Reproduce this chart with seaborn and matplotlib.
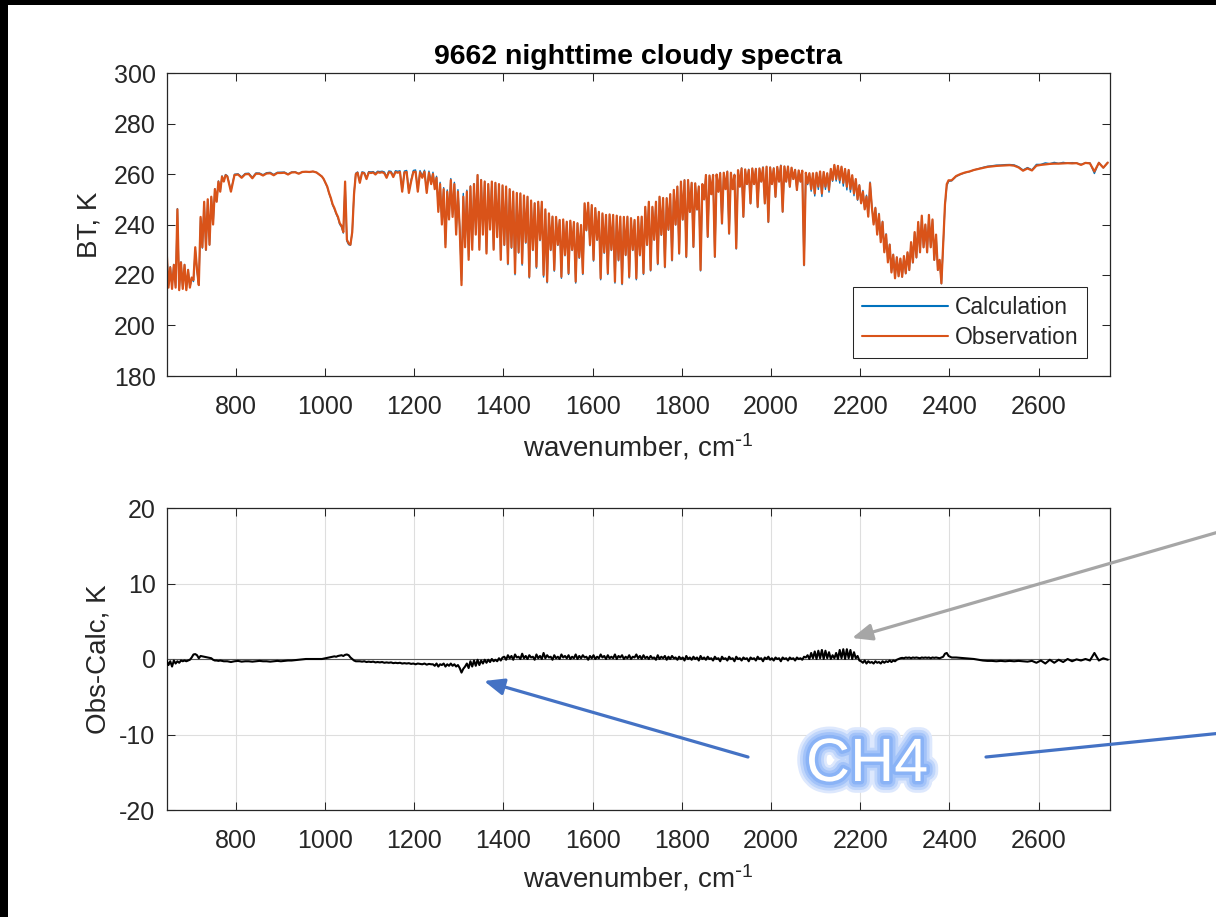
import numpy as np
import pandas as pd
import matplotlib
matplotlib.use("Agg")
import matplotlib.pyplot as plt
import seaborn as sns
from matplotlib import patheffects as pe
from matplotlib.patches import FancyArrowPatch, Rectangle, ArrowStyle
from matplotlib import font_manager

# ---------------- data ----------------
# spectral segments: start wavenumber, sampling step (cm-1)
seg_start = [645, 789, 989, 1078, 1242, 2226, 2405]
seg_step = [4, 8, 4, 5, 4, 4, 10]

# observed brightness temperature (K) per segment
obs_co2_lw = [229, 215, 223, 214.5, 224, 215, 246, 214, 225, 214.5,
              224, 214, 222, 215, 219, 218, 231, 222, 216, 243,
              231, 249, 230, 250, 232, 251, 240, 254, 249, 257,
              253, 259, 257, 259.5, 259]
obs_window1 = [253, 259.6, 259.8, 258.5, 259.9, 260, 258.3, 260.1, 260.1, 259.4,
               260.2, 260.3, 259.5, 260.4, 260.4, 260.5, 259.8, 260.6, 260.7, 260.1,
               260.8, 260.9, 260.8, 261, 260.6]
obs_o3 = [259.5, 259, 258, 256.5, 255, 252.5, 250.5, 248, 246.5, 244.5,
          243, 240.5, 239.5, 237, 257, 234, 232.5, 232, 237, 252,
          260, 260.5]
obs_window2 = [256.5, 260.5, 260.3, 258, 260.6, 260.4, 260.6, 259.8, 260.7, 260.5,
               260.7, 260.3, 258.5, 260.7, 260.6, 258.8, 260.8, 260.5, 260.8, 253,
               260.6, 260.8, 252.5, 257, 260.8, 260.9, 253, 260.7, 258.5, 260.9,
               252.5, 260.5, 256]
obs_h2o = [260, 254, 258.5, 245, 256, 240, 254, 231, 253, 242,
           257.6, 243, 256, 236, 253, 238, 216, 251, 231, 253,
           226, 255, 230, 256, 236, 259.6, 230, 257.6, 236, 257,
           228.5, 256, 238, 257, 230, 256.5, 235, 256, 226, 255.5,
           232, 255, 224.6, 254, 231, 253, 220.7, 252.5, 229, 252.3,
           224.6, 251.5, 233, 251, 219.3, 249.5, 230, 248.4, 223.3, 249,
           234, 249, 220, 246, 217.4, 244.4, 230, 243.1, 222, 243,
           232, 241.8, 219.3, 242, 228, 241.1, 220.7, 241.5, 230, 241,
           217.4, 240.5, 227, 239.8, 220.7, 248.4, 237.8, 248.6, 232, 247.7,
           226, 246.5, 234, 245, 218.7, 244.4, 229, 243.8, 220.7, 244,
           230, 243.8, 217.4, 243.5, 226, 243.1, 216.7, 243, 228, 243.1,
           219.3, 242.5, 230, 241.8, 218.7, 243, 228, 243.1, 220.7, 247,
           232, 249, 222, 247, 234, 249, 224.6, 251, 236, 250.5,
           223.3, 250.4, 238, 252, 226, 253.7, 240, 255, 228.6, 257,
           242, 257.5, 227.3, 257.6, 245, 256.5, 231.2, 256.3, 246, 255,
           222, 256, 250, 259.6, 235.2, 259.4, 252, 259.6, 227.3, 259.8,
           253, 260.3, 240.5, 260.5, 254, 260.9, 236.5, 260.5, 254, 259.6,
           230.6, 261.5, 255, 262.2, 243.1, 261.8, 256, 261.6, 248.4, 262.2,
           256, 262, 247, 262.2, 257, 262.5, 248.4, 262.9, 241.1, 262.6,
           256, 262.2, 251, 262.8, 257, 263.2, 245.1, 263, 257, 262.9,
           255, 262.5, 258, 261.6, 253.7, 261.4, 257, 261.3, 224, 260.5,
           256.3, 260.3, 254, 260.3, 252.3, 260.5, 255, 261, 252.3, 260.8,
           255, 260.3, 253.7, 262, 257.6, 263.6, 258, 263.2, 257.6, 262.9,
           256.5, 262, 255, 261.6, 254, 259.5, 252.3, 258, 250, 255.5,
           248.4, 253, 246, 251, 243.1, 256.3]
obs_co2_sw = [247, 240, 246.5, 236, 244, 233, 241, 229, 236, 225,
              232, 221, 228, 218.7, 227, 219.5, 226.5, 219.3, 227.5, 220.7,
              229, 222, 233, 225, 237, 227, 241, 229, 243.5, 231,
              240, 229, 243.8, 231, 242, 226, 236, 222, 226, 216.7,
              232, 248, 256, 257.5]
obs_sw_window = [257.5, 259.2, 260, 260.6, 261, 261.6, 262, 262.4, 262.8, 263,
                 263.2, 263.3, 263.4, 263.5, 263.3, 262.6, 261.3, 262.2, 261.4, 263.3,
                 263.6, 263.8, 264, 264.1, 264.1, 264.2, 264.3, 264.2, 264.3, 263.6,
                 264.4, 264.2, 261, 264.4, 262.5, 264.5]

# observation minus calculation (K) per segment
diff_co2_lw = [-0.2, -0.8, -0.3, -1.0, -0.2, -0.6, -0.3, -0.5, -0.2, -0.3,
               -0.2, -0.3, -0.2, -0.1, 0.2, 0.6, 0.65, 0.5, 0.1, 0.4,
               0.35, 0.3, 0.25, 0.2, 0.15, 0.1, -0.1, -0.2, -0.2, -0.25,
               -0.2, -0.25, -0.3, -0.3, -0.3]
diff_window1 = [-0.4, -0.3, -0.25, -0.35, -0.3, -0.3, -0.35, -0.3, -0.25, -0.3,
                -0.3, -0.35, -0.3, -0.25, -0.3, -0.25, -0.2, -0.2, -0.15, -0.1,
                -0.05, 0, 0, 0, 0]
diff_o3 = [0, 0, 0.05, 0.1, 0.15, 0.2, 0.25, 0.3, 0.35, 0.3,
           0.4, 0.45, 0.5, 0.4, 0.55, 0.6, 0.5, 0.2, 0.0, -0.2,
           -0.3, -0.3]
diff_window2 = [-0.3, -0.35, -0.3, -0.4, -0.35, -0.4, -0.35, -0.45, -0.4, -0.45,
                -0.4, -0.5, -0.45, -0.5, -0.45, -0.55, -0.5, -0.55, -0.5, -0.6,
                -0.55, -0.6, -0.55, -0.65, -0.6, -0.7, -0.6, -0.65, -0.7, -0.6,
                -0.75, -0.65, -0.7]
diff_h2o = [-0.7, -0.9, -0.6, -1.0, -0.7, -0.8, -0.6, -1.0, -0.7, -0.9,
            -0.6, -0.9, -0.7, -1.0, -0.8, -1.2, -1.8, -1.3, -1.0, -0.6,
            -1.2, -0.3, -1.0, -0.2, -0.9, -0.1, -0.8, -0.2, -0.6, -0.1,
            -0.5, -0.1, -0.4, 0.0, -0.3, -0.1, -0.3, 0.1, -0.2, 0.2,
            0.3, -0.1, 0.5, 0.1, 0.4, -0.1, 0.6, 0.2, 0.3, 0.0,
            0.7, 0.1, 0.4, 0.0, 0.5, 0.2, 0.3, -0.1, 0.6, 0.1,
            0.4, 0.0, 0.8, 0.1, 0.5, 0.2, 0.3, -0.1, 0.5, 0.1,
            0.3, 0.0, 0.6, 0.2, 0.4, 0.1, 0.5, 0.0, 0.3, 0.1,
            0.6, 0.0, 0.4, 0.1, 0.5, 0.2, 0.3, -0.1, 0.4, 0.1,
            0.5, 0.0, 0.3, 0.1, 0.6, 0.2, 0.4, 0.0, 0.5, 0.1,
            0.3, 0.1, 0.6, 0.0, 0.4, 0.2, 0.5, 0.0, 0.3, 0.1,
            0.5, 0.0, 0.3, 0.2, 0.6, 0.1, 0.4, 0.0, 0.5, 0.1,
            0.3, 0.0, 0.4, 0.1, 0.2, -0.1, 0.5, 0.0, 0.3, 0.1,
            0.4, -0.1, 0.3, 0.0, 0.4, 0.1, 0.2, -0.1, 0.3, 0.0,
            0.2, -0.2, 0.4, 0.0, 0.2, -0.1, 0.3, 0.0, 0.2, -0.2,
            0.4, 0.0, 0.2, -0.1, 0.3, 0.0, 0.1, -0.2, 0.3, 0.0,
            0.1, -0.3, 0.3, 0.0, 0.1, -0.2, 0.3, 0.0, 0.1, -0.3,
            0.3, 0.0, 0.1, -0.2, 0.2, 0.0, 0.1, -0.3, 0.2, 0.0,
            0.1, -0.2, 0.3, 0.0, 0.1, -0.3, 0.2, 0.0, 0.3, -0.1,
            0.1, -0.2, 0.2, 0.0, 0.1, -0.3, 0.2, 0.0, 0.1, -0.2,
            0.2, 0.0, 0.1, -0.2, 0.2, 0.0, 0.1, -0.1, 0.3, 0.2,
            0.5, 0.0, 0.8, 0.1, 1.0, 0.0, 1.1, 0.1, 1.2, 0.0,
            1.1, 0.1, 0.9, 0.0, 0.5, 0.1, 0.8, 0.0, 1.2, 0.1,
            1.3, 0.0, 1.3, 0.1, 1.2, 0.0, 0.9, 0.1, 0.4, -0.2,
            -0.3, -0.5, -0.2, -0.6, -0.3, -0.5]
diff_co2_sw = [-0.4, -0.6, -0.3, -0.5, -0.4, -0.6, -0.3, -0.5, -0.3, -0.4,
               -0.2, -0.4, -0.2, -0.3, -0.1, 0.0, 0.1, 0.15, 0.1, 0.2,
               0.15, 0.2, 0.1, 0.2, 0.15, 0.2, 0.15, 0.1, 0.2, 0.15,
               0.2, 0.15, 0.2, 0.1, 0.2, 0.15, 0.2, 0.15, 0.1, 0.2,
               0.3, 0.7, 0.8, 0.4]
diff_sw_window = [0.2, 0.2, 0.15, 0.1, 0.05, 0.0, -0.1, -0.2, -0.25, -0.25,
                  -0.3, -0.25, -0.3, -0.25, -0.3, -0.25, -0.3, -0.35, -0.25, -0.5,
                  -0.2, -0.6, -0.1, -0.5, -0.1, -0.4, 0.0, -0.3, -0.05, -0.2,
                  0.0, -0.2, 0.8, -0.2, 0.1, -0.1]

x_ticks = [800, 1000, 1200, 1400, 1600, 1800, 2000, 2200, 2400, 2600]
bt_ticks = [180, 200, 220, 240, 260, 280, 300]
diff_ticks = [-20, -10, 0, 10, 20]
title_text = "9662 nighttime cloudy spectra"

# ---------------- assemble ----------------
obs_segs = [obs_co2_lw, obs_window1, obs_o3, obs_window2, obs_h2o, obs_co2_sw, obs_sw_window]
diff_segs = [diff_co2_lw, diff_window1, diff_o3, diff_window2, diff_h2o, diff_co2_sw, diff_sw_window]
wn = np.concatenate([s + st * np.arange(len(v)) for s, st, v in zip(seg_start, seg_step, obs_segs)])
obs = np.concatenate([np.asarray(v, float) for v in obs_segs])
dif = np.concatenate([np.asarray(v, float) for v in diff_segs])
calc = obs - dif
df = pd.DataFrame({"wn": wn, "Calculation": calc, "Observation": obs, "diff": dif})

# ---------------- style ----------------
sns.set_style("ticks")
plt.rcParams["font.family"] = ["Liberation Sans", "DejaVu Sans"]
plt.rcParams["axes.unicode_minus"] = False
plt.rcParams["mathtext.default"] = "regular"

W, H = 1216, 917
fig = plt.figure(figsize=(W / 100, H / 100), dpi=100)
fig.patch.set_facecolor("white")
ax1 = fig.add_axes([166.7 / W, 1 - 376 / H, 943.3 / W, 303 / H])
ax2 = fig.add_axes([166.7 / W, 1 - 810 / H, 943.3 / W, 302 / H])

sns.lineplot(data=df, x="wn", y="Calculation", ax=ax1, color="#0072BD", linewidth=1.0,
             label="Calculation", estimator=None, sort=False)
sns.lineplot(data=df, x="wn", y="Observation", ax=ax1, color="#D95319", linewidth=1.6,
             label="Observation", estimator=None, sort=False)

ax2.axhline(0, color="#5a5a5a", linewidth=0.8, zorder=1.5)
sns.lineplot(data=df, x="wn", y="diff", ax=ax2, color="black", linewidth=1.5,
             estimator=None, sort=False, legend=False, zorder=3)

edge = "#262626"
xlabel_text = "wavenumber, cm$^{\\text{-}1}$"
for ax in (ax1, ax2):
    ax.set_xlim(645, 2760)
    ax.set_xticks(x_ticks)
    ax.tick_params(direction="in", top=True, right=True, length=5.5, width=0.75,
                   color=edge, labelcolor=edge, labelsize=18)
    ax.tick_params(axis="x", pad=13.5)
    ax.tick_params(axis="y", pad=8)
    for sp in ax.spines.values():
        sp.set_color(edge)
        sp.set_linewidth(0.9)

ax1.set_xlabel(xlabel_text, fontsize=20, color=edge, labelpad=9)
ax2.set_xlabel(xlabel_text, fontsize=20, color=edge, labelpad=7)

ax1.set_ylim(180, 300)
ax1.set_yticks(bt_ticks)
ax1.set_ylabel("BT, K", fontsize=20, color=edge, labelpad=8)
ax1.set_title(title_text, fontsize=20.5, fontweight="bold", color="black", pad=6.5)

ax2.set_ylim(-20, 20)
ax2.set_yticks(diff_ticks)
ax2.set_ylabel("Obs-Calc, K", fontsize=20, color=edge, labelpad=6)
ax2.grid(True, color="#dedede", linewidth=0.8)
ax2.set_axisbelow(True)

leg = ax1.legend(loc="lower right", bbox_to_anchor=(0.9756, 0.0594), borderaxespad=0,
                 fontsize=16.5, frameon=True, fancybox=False, edgecolor=edge, framealpha=1,
                 handlelength=3.75, handletextpad=0.3, borderpad=0.38, labelspacing=0.32)
leg.get_frame().set_linewidth(0.75)
for t in leg.get_texts():
    t.set_color(edge)
for ln in leg.get_lines():
    ln.set_linewidth(1.5)

# ---------------- overlay annotations (figure pixels) ----------------
def fpt(x, y):
    return (x / W, 1 - y / H)

def arrow(p0, p1, color, head=True):
    style = ArrowStyle("-|>", head_length=12, head_width=5) if head else ArrowStyle("-")
    a = FancyArrowPatch(fpt(*p0), fpt(*p1), transform=fig.transFigure, arrowstyle=style,
                        mutation_scale=1, color=color, linewidth=2.3, shrinkA=0, shrinkB=0,
                        zorder=20)
    fig.add_artist(a)

arrow((1222, 531), (852, 638), "#a6a6a6")
arrow((748, 757), (484, 681), "#4472c4")
arrow((986, 757), (1222, 733), "#4472c4", head=False)

names = {f.name for f in font_manager.fontManager.ttflist}
if "Liberation Sans Narrow" in names:
    fam, fs = ["Liberation Sans Narrow", "DejaVu Sans"], 52
else:
    fam, fs = ["Liberation Sans", "DejaVu Sans"], 44
glow = [pe.Stroke(linewidth=17, foreground="#dde8fd"),
        pe.Stroke(linewidth=13, foreground="#c0d6fb"),
        pe.Stroke(linewidth=9, foreground="#a3c3f9"),
        pe.Stroke(linewidth=5, foreground="#8ab3f6"),
        pe.Normal()]
fig.text(*fpt(867, 781), "CH4", ha="center", va="baseline", color="white",
         fontsize=fs, family=fam, path_effects=glow, zorder=21)

# black screenshot border (top and left)
fig.add_artist(Rectangle((0, 1 - 5 / H), 1, 5 / H, transform=fig.transFigure,
                         facecolor="black", edgecolor="none", zorder=30))
fig.add_artist(Rectangle((0, 0), 8 / W, 1, transform=fig.transFigure,
                         facecolor="black", edgecolor="none", zorder=30))

fig.savefig("out.png", dpi=100, facecolor="white")
